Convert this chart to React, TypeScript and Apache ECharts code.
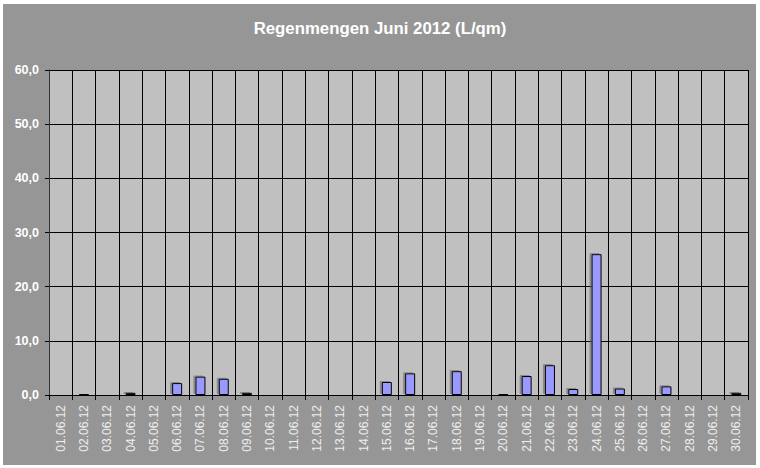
import React, { useEffect, useRef } from "react";
import * as echarts from "echarts";

const titleText = "Regenmengen Juni 2012 (L/qm)";

const categories = [
  "01.06.12", "02.06.12", "03.06.12", "04.06.12", "05.06.12", "06.06.12",
  "07.06.12", "08.06.12", "09.06.12", "10.06.12", "11.06.12", "12.06.12",
  "13.06.12", "14.06.12", "15.06.12", "16.06.12", "17.06.12", "18.06.12",
  "19.06.12", "20.06.12", "21.06.12", "22.06.12", "23.06.12", "24.06.12",
  "25.06.12", "26.06.12", "27.06.12", "28.06.12", "29.06.12", "30.06.12",
];

const rainValues = [
  0, 0.2, 0, 0.4, 0, 2.2,
  3.4, 3.0, 0.4, 0, 0, 0,
  0, 0, 2.4, 4.0, 0, 4.4,
  0, 0.2, 3.5, 5.5, 1.1, 26.0,
  1.2, 0, 1.6, 0, 0, 0.4,
];

const yMin = 0;
const yMax = 60;
const yInterval = 10;

export default function App() {
  const ref = useRef<HTMLDivElement>(null);

  useEffect(() => {
    if (!ref.current) return;
    const chart = echarts.init(ref.current, null, { renderer: "svg" });
    chart.setOption({
      animation: false,
      backgroundColor: "#ffffff",
      graphic: [
        {
          type: "rect",
          z: -10,
          silent: true,
          shape: { x: 3, y: 4, width: 753, height: 461 },
          style: { fill: "#969696" },
        },
      ],
      title: {
        text: titleText,
        left: "center",
        top: 15,
        textStyle: {
          color: "#ffffff",
          fontFamily: "Liberation Sans, Arial, sans-serif",
          fontWeight: "bold",
          fontSize: 16.8,
        },
      },
      grid: {
        left: 49,
        right: 12,
        top: 70,
        bottom: 73,
        show: true,
        backgroundColor: "#c0c0c0",
        borderWidth: 0,
      },
      xAxis: {
        type: "category",
        data: categories,
        boundaryGap: true,
        axisLine: { show: true, lineStyle: { color: "#000000", width: 1 } },
        axisTick: { show: true, length: 5, alignWithLabel: false, lineStyle: { color: "#000000" } },
        splitLine: { show: true, lineStyle: { color: "#000000", width: 1 } },
        axisLabel: {
          rotate: 90,
          interval: 0,
          margin: 10,
          color: "#eeeeee",
          fontFamily: "Liberation Sans, Arial, sans-serif",
          fontSize: 12,
        },
      },
      yAxis: {
        type: "value",
        min: yMin,
        max: yMax,
        interval: yInterval,
        axisLine: { show: true, lineStyle: { color: "#333333", width: 1 } },
        axisTick: { show: true, length: 4, lineStyle: { color: "#000000" } },
        splitLine: { show: true, lineStyle: { color: "#000000", width: 1 } },
        axisLabel: {
          margin: 10,
          color: "#ffffff",
          fontFamily: "Liberation Sans, Arial, sans-serif",
          fontWeight: "bold",
          fontSize: 12.5,
          formatter: (v: number) => v.toFixed(1).replace(".", ","),
        },
      },
      series: [
        {
          type: "bar",
          data: rainValues,
          barWidth: 10,
          itemStyle: {
            color: "#9999ff",
            borderColor: "#000000",
            borderWidth: 1,
            shadowColor: "rgba(100,100,100,0.6)",
            shadowOffsetX: -2,
            shadowOffsetY: -1,
            shadowBlur: 0,
          },
        },
      ],
    });
    return () => chart.dispose();
  }, []);

  return (
    <div
      ref={ref}
      style={{ position: "absolute", left: 0, top: 0, width: 760, height: 468 }}
    />
  );
}
